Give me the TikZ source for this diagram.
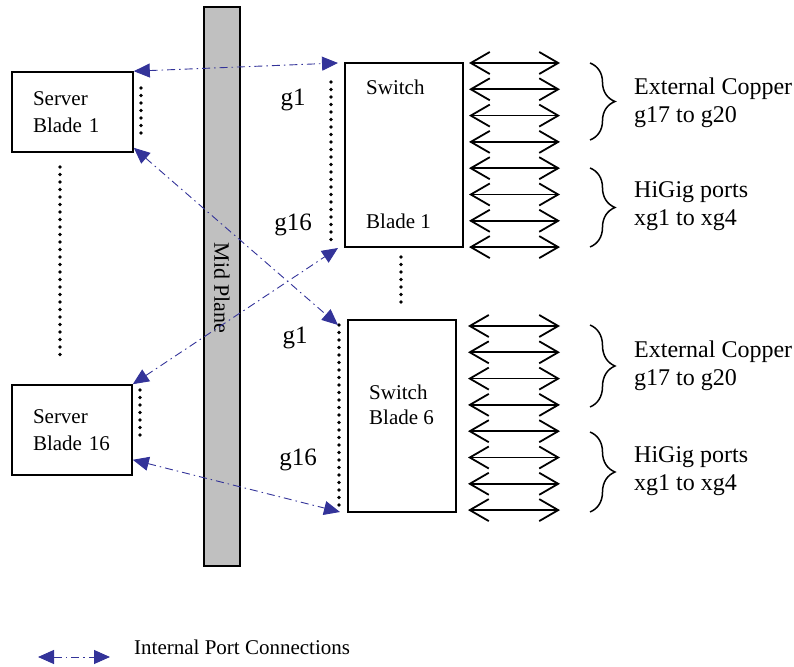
\documentclass[tikz,border=0pt]{standalone}
\usepackage{fontspec}
\setmainfont{Liberation Serif}
\usetikzlibrary{arrows.meta, positioning, decorations.pathreplacing, calc}
\definecolor{linkblue}{HTML}{333399}
\definecolor{planegray}{HTML}{C0C0C0}
\tikzstyle{blade} = [
  rectangle, draw=black, fill=white, line width=1.6pt,
  font=\fontsize{21}{27}\selectfont
]
\tikzstyle{link} = [
  {Triangle[length=16pt,width=14pt]}-{Triangle[length=16pt,width=14pt]},
  draw=linkblue, line width=0.9pt,
  dash pattern=on 8pt off 4pt on 1.5pt off 4pt
]
\tikzstyle{port} = [{Straight Barb[length=19pt,width=22pt]}-{Straight Barb[length=19pt,width=22pt]}, line width=1.8pt]
\tikzstyle{dotline} = [line width=3.6pt, line cap=round, dash pattern=on 0pt off 7.5pt]
\tikzstyle{brace} = [decorate, decoration={brace, amplitude=25pt}, line width=1.5pt]
\tikzstyle{portlabel} = [anchor=west, align=left, inner sep=0pt, font=\fontsize{24}{28}\selectfont]
\tikzstyle{glabel} = [inner sep=0pt, font=\fontsize{25}{30}\selectfont]

\begin{document}
\begin{tikzpicture}[x=1pt, y=1pt]
  \useasboundingbox (0,0) rectangle (794,666);

  % mid plane
  \node[rectangle, draw=black, line width=1.6pt, fill=planegray, minimum width=36pt, minimum height=559pt, inner sep=0pt] (mid) at (222,379.5) {};
  \node[rotate=-90, font=\fontsize{22}{26}\selectfont] (midtext) at (222,378) {Mid Plane};

  % server blades
  \node[blade, minimum width=121pt, minimum height=80pt, inner xsep=21pt, inner ysep=0pt, text width=79pt, align=left] (sb1) at (72.5,554) {Server\\Blade 1};
  \node[blade, minimum width=120pt, minimum height=90pt, inner xsep=21pt, inner ysep=0pt, text width=78pt, align=left] (sb16) at (72,236) {Server\\Blade 16};

  % switch blades
  \node[blade, minimum width=118pt, minimum height=184pt, inner sep=0pt] (sw1) at (404,511) {};
  \node[anchor=west, inner sep=0pt, font=\fontsize{21}{27}\selectfont] (sw1top) at (366,579) {Switch};
  \node[anchor=west, inner sep=0pt, font=\fontsize{21}{27}\selectfont] (sw1bot) at (366,445) {Blade 1};
  \node[blade, minimum width=108pt, minimum height=192pt, inner sep=0pt] (sw6) at (402,250) {};
  \node[anchor=west, align=left, inner sep=0pt, font=\fontsize{21}{25}\selectfont] (sw6text) at (369,261) {Switch\\Blade 6};

  % port labels
  \node[glabel] (sw1g1lbl) at (293,566) {g1};
  \node[glabel] (sw1g16lbl) at (293,441) {g16};
  \node[glabel] (sw6g1lbl) at (295,328) {g1};
  \node[glabel] (sw6g16lbl) at (298,206) {g16};

  % dotted runs
  \draw[dotline] (141,578) -- (141,528);
  \draw[dotline] (60,499) -- (60,306);
  \draw[dotline] (140,276) -- (140,228);
  \draw[dotline] (331,584) -- (331,426);
  \draw[dotline] (401,409) -- (401,361);
  \draw[dotline] (339,341) -- (339,156);

  % internal links
  \coordinate (sw1g1) at (338,603);
  \coordinate (sw1g16) at (338,418);
  \coordinate (sw6g1) at (338,341);
  \coordinate (sw6g16) at (340,154);
  \draw[link] (sb1.north east) -- (sw1g1);
  \draw[link] ([yshift=5pt]sb1.south east) -- (sw6g1);
  \draw[link] (sb16.north east) -- (sw1g16);
  \draw[link] ([yshift=16pt]sb16.south east) -- (sw6g16);

  % external ports
  \foreach \i in {0,...,7} {
    \coordinate (a\i) at (469,{603-26.3*\i});
    \coordinate (b\i) at (560,{603-26.3*\i});
    \draw[port] (a\i) -- (b\i);
    \coordinate (c\i) at (468,{340-26.3*\i});
    \coordinate (d\i) at (560,{340-26.3*\i});
    \draw[port] (c\i) -- (d\i);
  }

  % groups
  \draw[brace] (590,603) -- (590,526);
  \draw[brace] (590,498) -- (590,419);
  \draw[brace] (590,341) -- (590,259);
  \draw[brace] (590,234) -- (590,154);
  \node[portlabel] (copper1) at (634,563) {External Copper\\g17 to g20};
  \node[portlabel] (higig1) at (634,460) {HiGig ports\\xg1 to xg4};
  \node[portlabel] (copper6) at (634,300.5) {External Copper\\g17 to g20};
  \node[portlabel] (higig6) at (634,195) {HiGig ports\\xg1 to xg4};

  % legend
  \coordinate (legL) at (38,9);
  \coordinate (legR) at (110,9);
  \draw[link] (legL) -- (legR);
  \node[anchor=west, inner sep=0pt, font=\fontsize{21}{25}\selectfont] (legtext) at (134,19) {Internal Port Connections};

\end{tikzpicture}
\end{document}
